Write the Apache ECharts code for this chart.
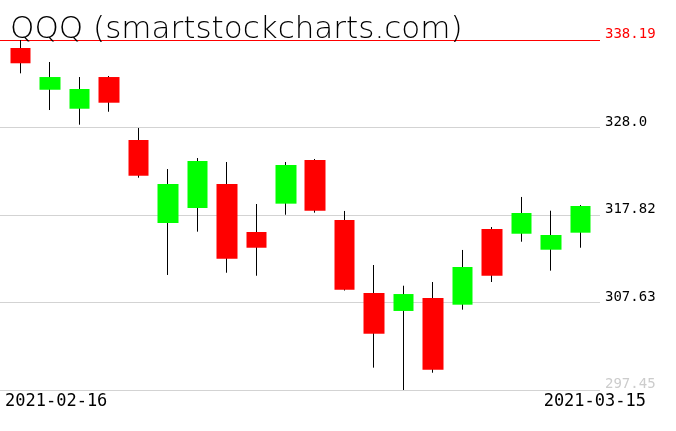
<!DOCTYPE html>
<html>
<head>
<meta charset="utf-8">
<script src="https://cdn.jsdelivr.net/npm/echarts@6/dist/echarts.min.js"></script>
<style>html,body{margin:0;padding:0;background:#fff}#c{width:676px;height:431px}</style>
</head>
<body>
<div id="c"></div>
<script>
const titleText = 'QQQ (smartstockcharts.com)';
const dates = ['2021-02-16','2021-02-17','2021-02-18','2021-02-19','2021-02-22','2021-02-23','2021-02-24','2021-02-25','2021-02-26','2021-03-01','2021-03-02','2021-03-03','2021-03-04','2021-03-05','2021-03-08','2021-03-09','2021-03-10','2021-03-11','2021-03-12','2021-03-15'];
const opens  = [337.26,332.40,330.19,333.88,326.55,316.89,318.63,321.43,315.84,319.14,324.22,317.24,308.74,306.65,308.16,307.38,316.19,315.64,313.78,315.76];
const closes = [335.48,333.88,332.49,330.89,322.39,321.43,324.11,312.73,314.01,323.64,318.32,309.12,304.00,308.62,299.81,311.77,310.75,318.05,315.49,318.87];
const lows   = [334.31,330.04,328.33,329.84,322.16,310.84,315.88,311.10,310.75,317.85,318.09,309.03,300.05,297.45,299.46,306.80,310.02,314.71,311.34,314.01];
const highs  = [338.19,335.63,333.88,334.00,327.95,323.17,324.45,323.99,319.10,323.99,324.34,318.29,312.00,309.59,310.02,313.75,316.42,319.92,318.32,318.98];
const tickValues = [338.19,328.005,317.82,307.635,297.45];
const tickLabels = ['338.19','328.0','317.82','307.63','297.45'];

const FONT = 'DejaVu Sans Mono';
const TITLE_FONT = 'DejaVu Sans';
const tickColors = ['#ff0000','#000000','#000000','#000000','#cccccc'];
const lineColors = ['#ff0000','#d3d3d3','#d3d3d3','#d3d3d3','#d3d3d3'];

const wickData = dates.map((d,i)=>[i, opens[i], closes[i], lows[i], highs[i]]);
const bodyData = dates.map((d,i)=>[i, opens[i], closes[i], Math.min(opens[i],closes[i]), Math.max(opens[i],closes[i])]);

const chart = echarts.init(document.getElementById('c'), null, {renderer:'canvas'});
chart.setOption({
  backgroundColor:'#ffffff',
  animation:false,
  title:{text:titleText, left:5, top:9, textStyle:{fontFamily:TITLE_FONT, fontSize:31, fontWeight:200, color:'#000'}},
  grid:{left:0, width:600, top:40, height:350},
  xAxis:{type:'value', min:-0.6955, max:19.662, show:false},
  yAxis:{type:'value', min:297.45, max:338.19, show:false, scale:true, splitLine:{show:false}},
  graphic:[
    {type:'text', left:5, top:393, style:{text:dates[0], font:'17px "'+FONT+'"', fill:'#000'}},
    {type:'text', right:30, top:393, style:{text:dates[dates.length-1], font:'17px "'+FONT+'"', fill:'#000'}}
  ],
  series:[
    {
      type:'candlestick', name:'wick', z:2,
      dimensions:['idx','open','close','lowest','highest'],
      encode:{x:0, y:[1,2,3,4]},
      barWidth:1,
      itemStyle:{color:'#000', color0:'#000', borderColor:'#000', borderColor0:'#000', borderWidth:1},
      data:wickData
    },
    {
      type:'candlestick', name:'body', z:3,
      dimensions:['idx','open','close','lowest','highest'],
      encode:{x:0, y:[1,2,3,4]},
      barWidth:21,
      itemStyle:{color:'#00ff00', color0:'#ff0000', borderColor:'#00ff00', borderColor0:'#ff0000', borderWidth:0},
      data:bodyData,
      markLine:{
        silent:true, symbol:'none', z:1,
        data: tickValues.map((v,i)=>({
          yAxis:v,
          lineStyle:{color:lineColors[i], width:1, type:'solid'},
          label:{show:true, position:'end', distance:5, formatter:tickLabels[i], color:tickColors[i], fontFamily:FONT, fontSize:14, lineHeight:11, verticalAlign:'bottom'}
        }))
      }
    }
  ]
});
</script>
</body>
</html>
